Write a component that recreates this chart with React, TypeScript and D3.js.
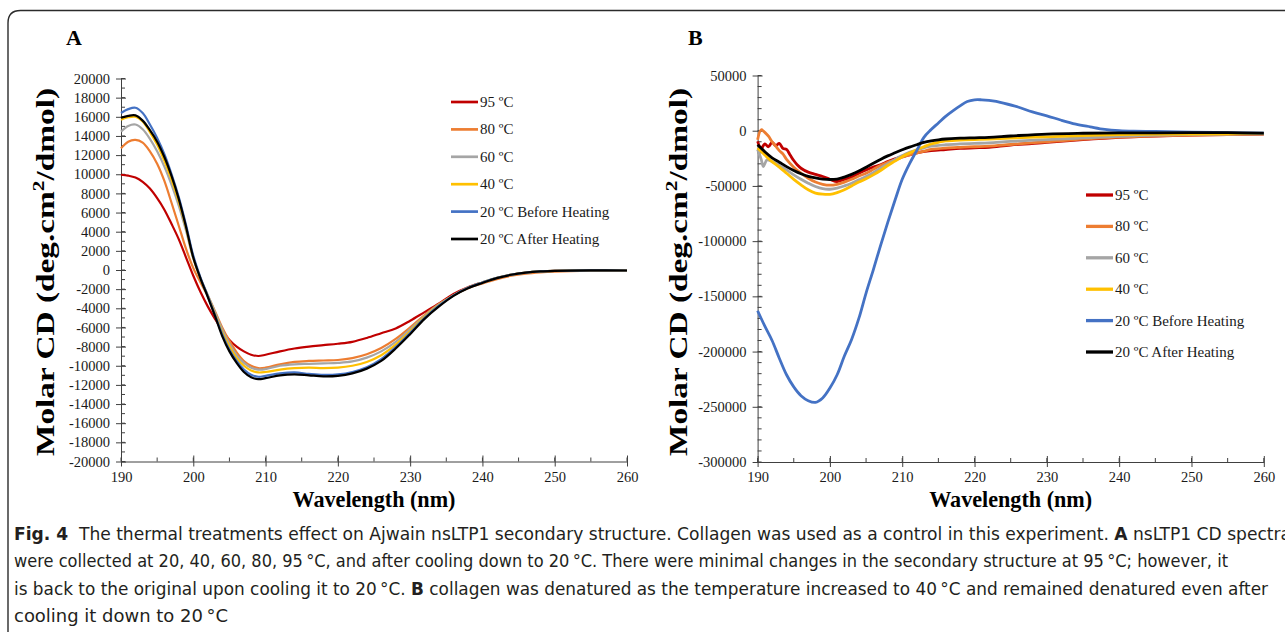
import { useEffect, useRef } from "react";
import * as d3 from "d3";

// ---- panel A (nsLTP1) ----
const wlA = [190, 191, 192, 193, 194, 195, 196, 197, 198, 199, 200, 201, 202, 203, 204, 205, 206, 207, 208, 209, 210, 212, 214, 216, 218, 220, 222, 224, 226, 228, 230, 232, 234, 236, 238, 240, 242, 244, 246, 248, 250, 255, 260];
const a95 = [9950, 9850, 9650, 9200, 8500, 7500, 6300, 4800, 3200, 1300, -600, -2300, -3800, -5100, -6300, -7300, -8000, -8500, -8850, -8980, -8850, -8500, -8200, -8000, -7850, -7700, -7500, -7100, -6600, -6100, -5300, -4400, -3500, -2500, -1800, -1300, -850, -500, -300, -180, -100, -50, -50];
const a80 = [12700, 13400, 13580, 13300, 12400, 11100, 9300, 7000, 4600, 2200, 200, -1300, -2700, -4300, -6000, -7400, -8600, -9500, -10000, -10250, -10200, -9850, -9600, -9500, -9450, -9400, -9200, -8800, -8150, -7200, -6000, -4700, -3550, -2650, -1900, -1400, -950, -600, -380, -250, -170, -80, -60];
const a60 = [14450, 15050, 15200, 14700, 13700, 12400, 10800, 8900, 6700, 4100, 1200, -900, -2600, -4400, -6200, -7700, -8900, -9700, -10200, -10400, -10350, -10000, -9850, -9800, -9750, -9700, -9550, -9150, -8500, -7500, -6200, -4800, -3600, -2650, -1850, -1300, -820, -480, -270, -150, -90, -40, -50];
const a40 = [15700, 15950, 16000, 15500, 14400, 13100, 11400, 9400, 7100, 4400, 1300, -900, -2700, -4600, -6500, -8000, -9200, -10000, -10500, -10700, -10650, -10400, -10250, -10200, -10250, -10200, -10000, -9600, -8900, -7800, -6400, -4900, -3650, -2650, -1850, -1300, -820, -480, -270, -150, -90, -40, -50];
const a20b = [16400, 16800, 16950, 16400, 15200, 13800, 12100, 10000, 7600, 4700, 1500, -800, -2700, -4700, -6700, -8300, -9500, -10400, -10950, -11150, -11050, -10800, -10700, -10850, -10950, -10900, -10650, -10150, -9300, -8050, -6550, -5000, -3700, -2650, -1850, -1300, -820, -480, -270, -150, -90, -40, -50];
const a20a = [15900, 16100, 16150, 15600, 14600, 13400, 11800, 9800, 7400, 4500, 1300, -900, -2800, -4800, -6900, -8500, -9700, -10650, -11200, -11400, -11300, -11000, -10900, -11000, -11100, -11050, -10800, -10300, -9500, -8200, -6700, -5100, -3800, -2700, -1900, -1350, -850, -500, -280, -150, -90, -40, -50];

// ---- panel B (collagen) ----
const wlB95 = [190, 190.5, 191, 191.5, 192, 192.5, 193, 193.5, 194, 194.5, 195, 195.5, 196, 197, 198, 199, 200, 201, 202, 203, 204, 205, 206, 207, 208, 209, 210, 211, 212, 214, 216, 218, 220, 222, 225, 230, 235, 240, 245, 250, 255, 260];
const b95 = [-9700, -16000, -12000, -14500, -10500, -13500, -11500, -16000, -17000, -22000, -27000, -31000, -34000, -37500, -39500, -41500, -44000, -46000, -44000, -42000, -38500, -35500, -33000, -30900, -28000, -25500, -23500, -21800, -20000, -18000, -17000, -16000, -15500, -15000, -13000, -10500, -8000, -6000, -4800, -4000, -3500, -3000];
const wlB80 = [190, 190.5, 191, 191.5, 192, 192.5, 193, 193.5, 194, 195, 196, 197, 198, 199, 200, 201, 202, 203, 204, 205, 206, 207, 208, 209, 210, 211, 212, 213, 214, 216, 218, 220, 222, 225, 230, 235, 240, 245, 250, 255, 260];
const b80 = [-8200, 900, -1500, -5000, -10000, -14000, -18000, -21000, -26000, -33000, -38500, -43000, -46500, -48500, -49300, -48500, -46500, -44000, -41000, -38500, -35000, -31500, -28500, -26500, -24000, -21800, -20300, -18500, -17000, -15700, -15000, -14500, -14000, -12500, -10000, -7500, -5800, -4700, -4000, -3500, -3000];
const wlB60 = [190, 190.5, 190.8, 191.3, 192, 193, 194, 195, 196, 197, 198, 199, 200, 201, 202, 203, 204, 205, 206, 207, 208, 209, 210, 211, 212, 213, 214, 216, 218, 220, 222, 225, 230, 235, 240, 245, 250, 255, 260];
const b60 = [-17000, -26000, -32400, -26400, -28000, -31500, -35500, -40000, -44000, -47500, -50500, -52500, -53000, -52000, -50000, -47500, -44500, -41500, -38000, -34000, -30000, -26000, -22500, -19500, -17500, -15500, -14000, -12700, -12000, -11500, -11000, -9700, -8000, -6500, -5000, -4000, -3500, -3000, -2800];
const wlB = [190, 191, 192, 193, 194, 195, 196, 197, 198, 199, 200, 201, 202, 203, 204, 205, 206, 207, 208, 209, 210, 211, 212, 213, 214, 215, 216, 218, 220, 222, 225, 230, 235, 240, 245, 250, 255, 260];
const b40 = [-15700, -22000, -28000, -33000, -38500, -44000, -49000, -53500, -56500, -57500, -57600, -56000, -53500, -50000, -46500, -43500, -40000, -36000, -31500, -27500, -23500, -20300, -17300, -14500, -12000, -10500, -9300, -8600, -8000, -7500, -6600, -5500, -4500, -3500, -3000, -3000, -2800, -2600];
const b20a = [-12700, -19000, -24500, -28500, -32500, -36000, -39000, -41300, -42800, -43800, -44200, -43800, -42000, -39500, -36500, -33000, -29500, -26000, -22800, -20000, -17300, -14800, -12700, -10600, -9200, -8200, -7500, -6800, -6400, -6000, -4800, -3000, -2300, -2000, -1900, -1800, -1800, -2100];
const wlBblue = [190, 191, 192, 193, 194, 195, 196, 197, 198, 199, 200, 201, 202, 203, 204, 205, 206, 207, 208, 209, 210, 211, 212, 213, 214, 215, 216, 217, 218, 219, 220, 221, 222, 223, 224, 226, 228, 230, 232, 234, 236, 238, 240, 242, 245, 250, 255, 260];
const b20b = [-163000, -177000, -190000, -206000, -221000, -232000, -240000, -244500, -246000, -242000, -233000, -221000, -204000, -189000, -170000, -147000, -126000, -104000, -83000, -63000, -44000, -30000, -18000, -6000, 1000, 7000, 13000, 18000, 22500, 26500, 28000, 28000, 27500, 26500, 25000, 21500, 17000, 13500, 9500, 6000, 3500, 1200, 0, -500, -700, -1200, -1800, -2200];

const labels = ["95 ºC", "80 ºC", "60 ºC", "40 ºC", "20 ºC Before Heating", "20 ºC After Heating"];
const colors = ["#C00000", "#ED7D31", "#A5A5A5", "#FFC000", "#4472C4", "#000000"];

const captionLines = [
  [["b", "Fig. 4"], ["r", "  The thermal treatments effect on Ajwain nsLTP1 secondary structure. Collagen was used as a control in this experiment. "], ["b", "A"], ["r", " nsLTP1 CD spectra"]],
  [["r", "were collected at 20, 40, 60, 80, 95\u2009°C, and after cooling down to 20\u2009°C. There were minimal changes in the secondary structure at 95\u2009°C; however, it"]],
  [["r", "is back to the original upon cooling it to 20\u2009°C. "], ["b", "B"], ["r", " collagen was denatured as the temperature increased to 40\u2009°C and remained denatured even after"]],
  [["r", "cooling it down to 20\u2009°C"]],
];
const captionEnds = [1291, 1228, 1268, 228];

const SERIF = "'Liberation Serif', 'Times New Roman', serif";

export default function App() {
  const svgRef = useRef<SVGSVGElement>(null);

  useEffect(() => {
    const svg = d3.select(svgRef.current);
    svg.selectAll("*").remove();

    // frame
    svg.append("path")
      .attr("d", "M8,632 L8,23 Q8,10.5 20.5,10.5 L1285,10.5")
      .attr("fill", "none")
      .attr("stroke", "#2b2b2b")
      .attr("stroke-width", 1.4);

    const drawPanel = (opts: {
      letter: string; letterX: number;
      x0: number; x1: number; y0: number; y1: number;
      yDomain: [number, number]; yMajor: number; yMinor: number;
      series: { wl: number[]; v: number[] }[];
      lw: number; legX: number; legY: number; legStep: number;
      titleX: number;
    }) => {
      const x = d3.scaleLinear().domain([190, 260]).range([opts.x0, opts.x1]);
      const y = d3.scaleLinear().domain(opts.yDomain).range([opts.y1, opts.y0]);
      const g = svg.append("g");

      g.append("text")
        .attr("x", opts.letterX).attr("y", 45)
        .attr("font-family", SERIF).attr("font-weight", "bold").attr("font-size", 22)
        .text(opts.letter);

      // minor ticks (inside)
      const yMinorTicks = d3.range(opts.yDomain[0], opts.yDomain[1] + 1, opts.yMinor);
      g.selectAll(".ym").data(yMinorTicks).enter().append("line")
        .attr("x1", opts.x0).attr("x2", opts.x0 + 4)
        .attr("y1", (d) => y(d)).attr("y2", (d) => y(d))
        .attr("stroke", "#404040").attr("stroke-width", 1);
      const xMinorTicks = d3.range(190, 261, 5);
      g.selectAll(".xm").data(xMinorTicks).enter().append("line")
        .attr("x1", (d) => x(d)).attr("x2", (d) => x(d))
        .attr("y1", opts.y1).attr("y2", opts.y1 - 4)
        .attr("stroke", "#404040").attr("stroke-width", 1);

      // axes with crossing major ticks; plain hyphen for negatives
      const fmt = (d: d3.NumberValue) => String(d);
      const yAxis = g.append("g")
        .attr("transform", `translate(${opts.x0},0)`)
        .call(d3.axisLeft(y).tickValues(d3.range(opts.yDomain[0], opts.yDomain[1] + 1, opts.yMajor)).tickSize(5).tickSizeOuter(0).tickPadding(6).tickFormat(fmt));
      yAxis.selectAll(".tick line").attr("x2", 5).attr("x1", -5);
      const xAxis = g.append("g")
        .attr("transform", `translate(0,${opts.y1})`)
        .call(d3.axisBottom(x).tickValues(d3.range(190, 261, 10)).tickSize(5).tickSizeOuter(0).tickPadding(5).tickFormat(fmt));
      xAxis.selectAll(".tick line").attr("y1", -6).attr("y2", 5);
      [yAxis, xAxis].forEach((ax) => {
        ax.selectAll(".domain, .tick line").attr("stroke", "#404040").attr("stroke-width", 1);
        ax.selectAll("text").attr("font-family", SERIF).attr("font-size", 14.5).attr("fill", "#1a1a1a");
      });

      // curves
      const line = d3.line<[number, number]>()
        .x((d) => x(d[0])).y((d) => y(d[1]))
        .curve(d3.curveCatmullRom.alpha(0.5));
      opts.series.forEach((s, i) => {
        g.append("path")
          .datum(s.wl.map((w, j) => [w, s.v[j]] as [number, number]))
          .attr("d", line)
          .attr("fill", "none")
          .attr("stroke", colors[i])
          .attr("stroke-width", opts.lw)
          .attr("stroke-linejoin", "round");
      });

      // legend
      labels.forEach((lab, i) => {
        const ly = opts.legY + i * opts.legStep;
        g.append("line")
          .attr("x1", opts.legX).attr("x2", opts.legX + 27)
          .attr("y1", ly).attr("y2", ly)
          .attr("stroke", colors[i]).attr("stroke-width", opts.lw + 0.5);
        g.append("text")
          .attr("x", opts.legX + 29).attr("y", ly + 5)
          .attr("font-family", SERIF).attr("font-size", 15).attr("fill", "#1a1a1a")
          .text(lab);
      });

      // axis titles
      g.append("text")
        .attr("x", (opts.x0 + opts.x1) / 2).attr("y", 507)
        .attr("text-anchor", "middle")
        .attr("font-family", SERIF).attr("font-weight", "bold").attr("font-size", 23)
        .attr("textLength", 163).attr("lengthAdjust", "spacingAndGlyphs")
        .text("Wavelength (nm)");
      const yt = g.append("text")
        .attr("transform", `translate(${opts.titleX},272) rotate(-90)`)
        .attr("text-anchor", "middle")
        .attr("font-family", SERIF).attr("font-weight", "bold").attr("font-size", 25)
        .attr("textLength", 368).attr("lengthAdjust", "spacingAndGlyphs");
      yt.append("tspan").text("Molar CD (deg.cm");
      yt.append("tspan").attr("font-size", 16).attr("dy", -10).text("2");
      yt.append("tspan").attr("dy", 10).text("/dmol)");
    };

    drawPanel({
      letter: "A", letterX: 66,
      x0: 121, x1: 627, y0: 78.5, y1: 461.5,
      yDomain: [-20000, 20000], yMajor: 2000, yMinor: 1000,
      series: [a95, a80, a60, a40, a20b, a20a].map((v) => ({ wl: wlA, v })),
      lw: 2.2, legX: 451, legY: 102, legStep: 27.4,
      titleX: 54,
    });

    drawPanel({
      letter: "B", letterX: 688,
      x0: 757.6, x1: 1263.8, y0: 75.5, y1: 462,
      yDomain: [-300000, 50000], yMajor: 50000, yMinor: 10000,
      series: [
        { wl: wlB95, v: b95 },
        { wl: wlB80, v: b80 },
        { wl: wlB60, v: b60 },
        { wl: wlB, v: b40 },
        { wl: wlBblue, v: b20b },
        { wl: wlB, v: b20a },
      ],
      lw: 2.8, legX: 1086, legY: 195, legStep: 31.4,
      titleX: 687,
    });

    // caption
    const CAP = "'Liberation Sans Narrow', 'DejaVu Sans Condensed', 'Open Sans', sans-serif";
    captionLines.forEach((parts, i) => {
      const t = svg.append("text")
        .attr("x", 14).attr("y", 540 + i * 27.3)
        .attr("font-family", CAP).attr("font-size", 18).attr("fill", "#231f20")
        .attr("textLength", captionEnds[i] - 14)
        .attr("lengthAdjust", "spacingAndGlyphs")
        .style("white-space", "pre");
      parts.forEach(([w, s]) => {
        t.append("tspan").attr("font-weight", w === "b" ? "bold" : "normal").text(s);
      });
    });
  }, []);

  return (
    <svg
      ref={svgRef}
      width={1285}
      height={632}
      style={{ position: "absolute", left: 0, top: 0, background: "#fff" }}
    />
  );
}
